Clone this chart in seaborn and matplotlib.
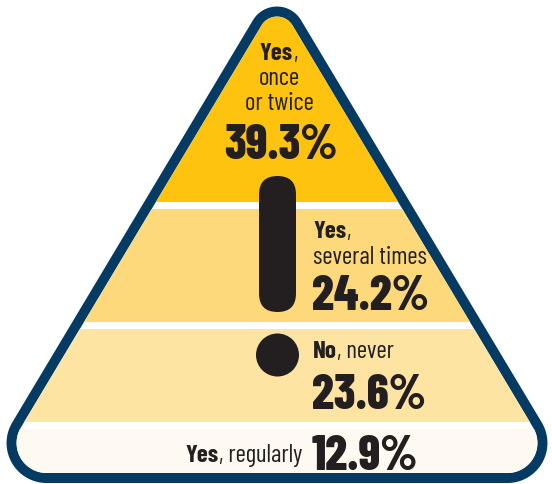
import numpy as np
import seaborn as sns
import matplotlib.pyplot as plt
from matplotlib.patches import Polygon, FancyBboxPatch, Circle

# survey answers, top band to bottom band
answers = ['Yes, once or twice', 'Yes, several times', 'No, never', 'Yes, regularly']
bold_words = ['Yes', 'Yes', 'No', 'Yes']
values = [39.3, 24.2, 23.6, 12.9]
band_colors = ['#fdc30f', '#fed97c', '#fee4a3', '#fefaf1']

navy = '#053b63'
ink = '#231f20'

sns.set_theme(style='white')
plt.rcParams['font.family'] = ['Barlow Condensed', 'DejaVu Sans']


def rounded_triangle(verts, radii, n=40):
    V = np.array(verts, float)
    pts = []
    for i in range(3):
        P = V[i]
        u1 = V[i - 1] - P
        u1 /= np.linalg.norm(u1)
        u2 = V[(i + 1) % 3] - P
        u2 /= np.linalg.norm(u2)
        theta = np.arccos(np.dot(u1, u2))
        r = radii[i]
        bis = (u1 + u2) / np.linalg.norm(u1 + u2)
        c = P + bis * r / np.sin(theta / 2)
        t1 = P + u1 * r / np.tan(theta / 2)
        t2 = P + u2 * r / np.tan(theta / 2)
        a1 = np.arctan2(*(t1 - c)[::-1])
        a2 = np.arctan2(*(t2 - c)[::-1])
        da = (a2 - a1 + np.pi) % (2 * np.pi) - np.pi
        ang = a1 + np.linspace(0, da, n)
        pts.extend(np.column_stack([c[0] + r * np.cos(ang), c[1] + r * np.sin(ang)]))
    return np.array(pts)


fig = plt.figure(figsize=(5.52, 4.85), dpi=100)
ax = fig.add_axes([0, 0, 1, 1])
ax.set_xlim(0, 552)
ax.set_ylim(485, 0)
ax.axis('off')

# warning triangle: navy rim, white inside
outer = np.array([[277, -19], [-24, 484], [578, 484]], float)
radii = [28, 40, 40]
border = 10
incenter = np.array([277, 484 - 170.3])
inner = incenter + (outer - incenter) * (170.3 - border) / 170.3

ax.add_patch(Polygon(rounded_triangle(outer, radii), closed=True, fc=navy, ec='none'))
inner_patch = Polygon(rounded_triangle(inner, [r - border for r in radii]), closed=True,
                      fc='white', ec='none')
ax.add_patch(inner_patch)

# horizontal bands (top, bottom in pixels), clipped to the triangle
band_top = [0, 210, 330, 430]
band_bottom = [203, 323, 423, 480]
bars = ax.barh([(a + b) / 2 for a, b in zip(band_top, band_bottom)],
               width=552, left=0,
               height=[b - a for a, b in zip(band_top, band_bottom)],
               color=band_colors, edgecolor='none')
for bar in bars:
    bar.set_clip_path(inner_patch)

# exclamation mark
ax.add_patch(FancyBboxPatch((259, 177), 37, 136, boxstyle='round,pad=0,rounding_size=18.5',
                            fc=ink, ec='none'))
ax.add_patch(Circle((277.5, 356), 21.5, fc=ink, ec='none'))

lab = 18
big = 35
num_w = 800
pct = [f'{v:.1f}%' for v in values]

# band 1 (centred)
cx = 279
t = ax.text(cx - 3, 60, bold_words[0], ha='center', va='baseline', fontsize=lab,
            fontweight='bold', color=ink)
ax.annotate(',', xy=(1, 0), xycoords=t, ha='left', va='bottom', fontsize=lab, color=ink)
ax.text(cx, 85, 'once', ha='center', va='baseline', fontsize=lab, color=ink)
ax.text(cx, 110, 'or twice', ha='center', va='baseline', fontsize=lab, color=ink)
ax.text(cx + 2, 159, pct[0], ha='center', va='baseline', fontsize=big,
        fontweight=num_w, color=ink)

# band 2
lx = 313
t = ax.text(lx, 238, bold_words[1], ha='left', va='baseline', fontsize=lab,
            fontweight='bold', color=ink)
ax.annotate(',', xy=(1, 0), xycoords=t, ha='left', va='bottom', fontsize=lab, color=ink)
ax.text(lx, 264, 'several times', ha='left', va='baseline', fontsize=lab, color=ink)
ax.text(lx - 1, 310, pct[1], ha='left', va='baseline', fontsize=big,
        fontweight=num_w, color=ink)

# band 3
t = ax.text(lx, 358, bold_words[2], ha='left', va='baseline', fontsize=lab,
            fontweight='bold', color=ink)
ax.annotate(', never', xy=(1, 0), xycoords=t, ha='left', va='bottom', fontsize=lab, color=ink)
ax.text(lx - 1, 409, pct[2], ha='left', va='baseline', fontsize=big,
        fontweight=num_w, color=ink)

# band 4
t = ax.text(302, 462, ', regularly', ha='right', va='baseline', fontsize=lab, color=ink)
ax.annotate(bold_words[3], xy=(0, 0), xycoords=t, ha='right', va='bottom', fontsize=lab,
            fontweight='bold', color=ink)
ax.text(lx - 1, 470, pct[3], ha='left', va='baseline', fontsize=big,
        fontweight=num_w, color=ink)

fig.savefig('out.png', dpi=100)
